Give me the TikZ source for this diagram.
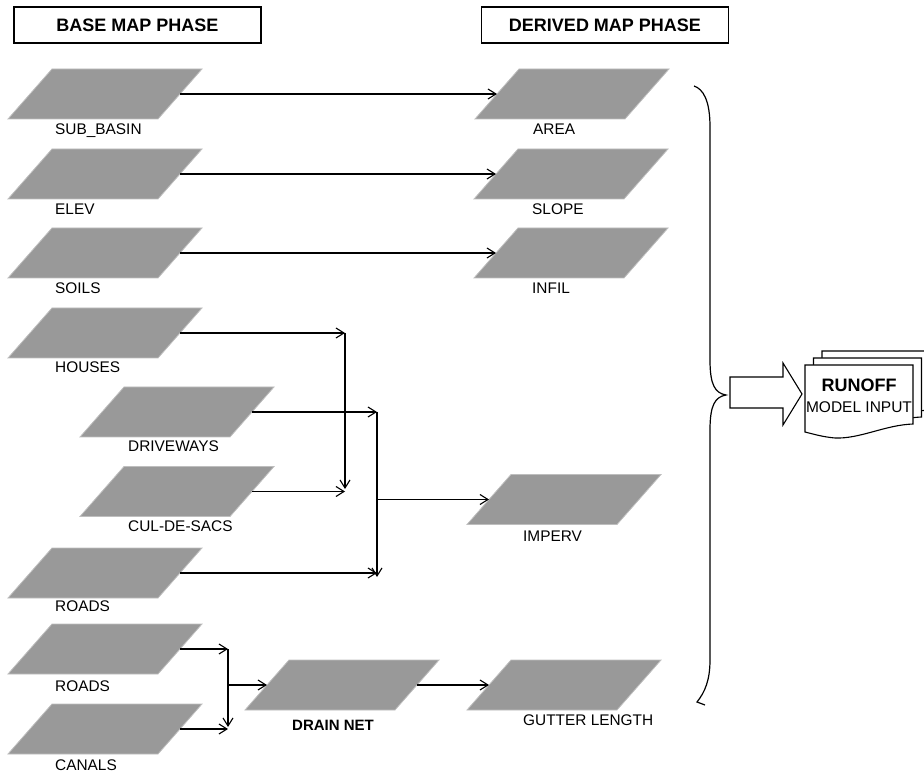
\documentclass[tikz,border=0pt]{standalone}
\usepackage{fontspec}
\setmainfont{Liberation Sans}
\usetikzlibrary{arrows.meta}
\definecolor{layergray}{RGB}{153,153,153}
\definecolor{layeredge}{RGB}{190,190,190}
\tikzset{
  layer/.style={minimum width=150pt, minimum height=50pt, inner sep=0pt, outer sep=0pt},
  layerfill/.style={fill=layergray, draw=layeredge, line width=0.8pt},
  lbl/.style={anchor=base west, inner sep=0pt, font=\fontsize{15.4}{18}\selectfont},
  hdr/.style={draw, line width=1.2pt, minimum width=247pt, minimum height=36pt, inner sep=0pt, font=\bfseries\fontsize{18}{21}\selectfont},
  arr/.style={-{Straight Barb[length=8pt,width=10pt]}, line width=1.1pt},
  docstyle/.style={fill=white, draw=black, line width=1.1pt},
}
\newcommand\maplayer[3]{%
  \node[layer] (#1) at (#2,#3) {};
  \path[layerfill] ([xshift=-22pt]#1.south west) -- ([xshift=-22pt]#1.south east)
    -- ([xshift=22pt]#1.north east) -- ([xshift=22pt]#1.north west) -- cycle;
}
\newcommand\docsheet[2]{%
  \path[docstyle, shift={(#1,#2)}] (0,0) -- (108,0) -- (108,59)
    .. controls (80,60) and (55,74) .. (30,73)
    .. controls (18,72) and (8,69) .. (0,67) -- cycle;
}
\begin{document}
\begin{tikzpicture}[x=1pt,y=-1pt]
\useasboundingbox (0,0) rectangle (924,775);

% headers
\node[hdr] (hbase) at (137.5,25) {BASE MAP PHASE};
\node[hdr] (hder) at (605,25) {DERIVED MAP PHASE};

% base layers
\maplayer{sub}{105}{94}
\maplayer{elev}{105}{174}
\maplayer{soils}{105}{253}
\maplayer{houses}{105}{333}
\maplayer{drive}{177}{412}
\maplayer{cul}{177}{491.5}
\maplayer{roadsa}{105}{573}
\maplayer{roadsb}{105}{649}
\maplayer{canals}{105}{729}

% derived layers
\maplayer{area}{572}{94}
\maplayer{slope}{571}{174}
\maplayer{infil}{571}{253}
\maplayer{imperv}{564}{499.5}
\maplayer{drain}{342}{685}
\maplayer{gutter}{564}{685}

% labels
\node[lbl] (lsub) at (55,134.5) {SUB\_BASIN};
\node[lbl] (lelev) at (55,214.5) {ELEV};
\node[lbl] (lsoils) at (55,293.5) {SOILS};
\node[lbl] (lhouses) at (55,373) {HOUSES};
\node[lbl] (ldrive) at (128,452) {DRIVEWAYS};
\node[lbl] (lcul) at (128,531) {CUL-DE-SACS};
\node[lbl] (lroadsa) at (55,611) {ROADS};
\node[lbl] (lroadsb) at (55,691) {ROADS};
\node[lbl] (lcanals) at (55,770) {CANALS};
\node[lbl] (larea) at (533,134.5) {AREA};
\node[lbl] (lslope) at (532,214.5) {SLOPE};
\node[lbl] (linfil) at (532,294) {INFIL};
\node[lbl] (limperv) at (523,541) {IMPERV};
\node[lbl, font=\bfseries\fontsize{15}{18}\selectfont] (ldrain) at (292,730) {DRAIN NET};
\node[lbl] (lgutter) at (523,725) {GUTTER LENGTH};

% junction points
\coordinate (hA) at (345,333);
\coordinate (hB) at (345,489);
\coordinate (dA) at (377,412);
\coordinate (dB) at (377,577);
\coordinate (rA) at (228,649);
\coordinate (rB) at (228,727);

% connectors
\draw[arr] (sub.east) -- (area.west);
\draw[arr] (elev.east) -- (slope.west);
\draw[arr] (soils.east) -- (infil.west);
\draw[arr] (houses.east) -- (hA);
\draw[arr] (hA) -- (hB);
\draw[arr] (drive.east) -- (dA);
\draw[arr] (dA) -- (dB);
\draw[arr] (cul.east) -- (cul.east -| hA);
\draw[arr] (roadsa.east) -- (roadsa.east -| dA);
\draw[arr] (imperv.west -| dA) -- (imperv.west);
\draw[arr] (roadsb.east) -- (roadsb.east -| rA);
\draw[arr] (rA) -- (rB);
\draw[arr] (canals.east) -- (canals.east -| rA);
\draw[arr] (drain.west -| rA) -- (drain.west);
\draw[arr] (drain.east) -- (gutter.west);

% brace
\draw[line width=1.2pt] (694,86) .. controls (703,89) and (710,100) .. (710,127)
  -- (710,360) .. controls (710,385) and (715,393) .. (726,395)
  .. controls (715,397) and (710,405) .. (710,430)
  -- (710,660) .. controls (710,680) and (705,692) .. (697,702) -- (705,705);

% block arrow
\draw[line width=1.1pt, fill=white] (730,377) -- (783,377) -- (783,363) -- (802,394)
  -- (783,425) -- (783,408) -- (730,408) -- cycle;

% document stack
\docsheet{822}{351}
\docsheet{813.5}{358}
\docsheet{805}{365}
\node[anchor=base, inner sep=0pt, font=\bfseries\fontsize{18}{21}\selectfont] (runoff) at (859,392) {RUNOFF};
\node[anchor=base, inner sep=0pt, font=\fontsize{15.5}{18}\selectfont] (modelin) at (859,413) {MODEL INPUT};
\end{tikzpicture}
\end{document}
